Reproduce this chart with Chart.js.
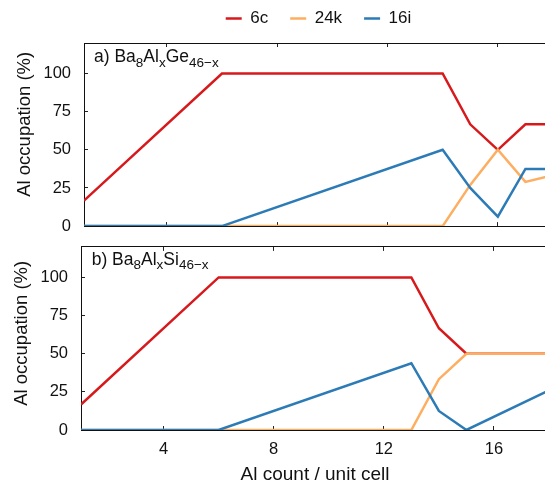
<!DOCTYPE html>
<html>
<head>
<meta charset="utf-8">
<script src="https://cdn.jsdelivr.net/npm/chart.js@4.4.1/dist/chart.umd.min.js"></script>
<style>
  html, body { margin: 0; padding: 0; background: #fff; overflow: hidden; }
  body { width: 545px; height: 487px; position: relative; }
  canvas { position: absolute; left: 0; }
  #panelA { top: 0; }
  #panelB { top: 220px; }
</style>
</head>
<body>
<canvas id="panelA" width="553" height="253"></canvas>
<canvas id="panelB" width="549" height="267"></canvas>
<script>
const seriesNames = ['6c', '24k', '16i'];
const seriesColors = ['#d7191c', '#fdae61', '#2c7bb6'];
const xTicks = [4, 8, 12, 16];
const yTicks = [0, 25, 50, 75, 100];

// a) Ba8AlxGe46-x
const ge6c = [{x: 1, y: 16.7}, {x: 6, y: 100}, {x: 14, y: 100}, {x: 15, y: 66.7}, {x: 16, y: 50}, {x: 17, y: 66.7}, {x: 18, y: 66.7}];
const ge24k = [{x: 1, y: 0}, {x: 14, y: 0}, {x: 15, y: 27}, {x: 16, y: 50}, {x: 17, y: 29}, {x: 18, y: 33.3}];
const ge16i = [{x: 1, y: 0}, {x: 6, y: 0}, {x: 14, y: 50}, {x: 15, y: 25}, {x: 16, y: 6.25}, {x: 17, y: 37.5}, {x: 18, y: 37.5}];

// b) Ba8AlxSi46-x
const si6c = [{x: 1, y: 16.7}, {x: 6, y: 100}, {x: 13, y: 100}, {x: 14, y: 66.7}, {x: 15, y: 50}, {x: 18, y: 50}];
const si24k = [{x: 1, y: 0}, {x: 13, y: 0}, {x: 14, y: 33.3}, {x: 15, y: 50}, {x: 18, y: 50}];
const si16i = [{x: 1, y: 0}, {x: 6, y: 0}, {x: 13, y: 43.75}, {x: 14, y: 12.5}, {x: 15, y: 0}, {x: 18, y: 26}];

const FONT = '"Liberation Sans", Arial, sans-serif';
const INK = '#111';

// chemical formula in the upper left corner, with subscripts
const panelLabel = {
  id: 'panelLabel',
  afterDraw(chart, args, o) {
    const ctx = chart.ctx;
    let x = chart.chartArea.left + o.dx;
    const y = chart.chartArea.top + o.dy;
    ctx.save();
    ctx.fillStyle = INK;
    ctx.textBaseline = 'alphabetic';
    ctx.textAlign = 'left';
    for (const [txt, sub] of o.parts) {
      ctx.font = (sub ? '13.5px ' : '17.5px ') + FONT;
      ctx.fillText(txt, x, sub ? y + 4.5 : y);
      x += ctx.measureText(txt).width;
    }
    ctx.restore();
  }
};

// inward tick marks, no grid lines
const tickGrid = { drawOnChartArea: false, drawTicks: true, tickLength: -4, color: '#222', lineWidth: 1 };
const frame = { display: true, color: '#111', width: 1 };

function setTicks(list) {
  return s => { s.ticks = list.map(v => ({ value: v })); };
}

function makePanel(id, series, p) {
  return new Chart(document.getElementById(id), {
    type: 'line',
    data: {
      datasets: seriesNames.map((name, i) => ({
        label: name,
        data: series[i],
        borderColor: seriesColors[i],
        backgroundColor: seriesColors[i],
        borderWidth: 2.5,
        pointRadius: 0,
        pointStyle: 'line',
        tension: 0,
        order: 3 - i,
      })),
    },
    options: {
      responsive: false,
      animation: false,
      events: [],
      layout: { padding: p.padding },
      plugins: {
        legend: p.legend ? {
          display: true,
          position: 'top',
          fullSize: false,
          maxHeight: 45,
          labels: {
            usePointStyle: true,
            pointStyleWidth: 16,
            padding: 22,
            color: INK,
            font: { family: FONT, size: 17 },
            sort: (a, b) => a.datasetIndex - b.datasetIndex,
          },
        } : { display: false },
        tooltip: { enabled: false },
        panelLabel: { parts: p.label, dx: p.dx, dy: p.dy },
      },
      scales: {
        x: {
          type: 'linear', position: 'bottom', min: 1, max: 18,
          afterBuildTicks: setTicks(xTicks),
          afterFit: s => { s.height = p.xHeight; },
          grid: tickGrid, border: frame,
          ticks: { display: p.xLabels, padding: 13.4, color: INK, font: { family: FONT, size: 16.5 } },
          title: { display: p.xLabels, text: 'Al count / unit cell', color: INK, font: { family: FONT, size: 19 }, padding: { top: 0, bottom: 0.5 } },
        },
        x2: {
          type: 'linear', position: 'top', min: 1, max: 18,
          afterBuildTicks: setTicks(xTicks),
          afterFit: s => { s.height = p.topHeight; },
          grid: tickGrid, border: frame,
          ticks: { display: false },
        },
        y: {
          type: 'linear', position: 'left', min: 0, max: 120,
          afterBuildTicks: setTicks(yTicks),
          afterFit: s => { s.width = p.yWidth; },
          grid: tickGrid, border: frame,
          ticks: { padding: 17, color: INK, font: { family: FONT, size: 16.5 } },
          // leading spaces lift the rotated label a little above the axis middle
          title: { display: true, text: p.yTitle, color: INK, font: { family: FONT, size: 18.5 }, padding: { top: p.titlePad, bottom: 0 } },
        },
        y2: {
          type: 'linear', position: 'right', min: 0, max: 120,
          afterBuildTicks: setTicks(yTicks),
          afterFit: s => { s.width = 0; },
          grid: tickGrid, border: frame,
          ticks: { display: false },
        },
      },
    },
    plugins: [panelLabel],
  });
}

makePanel('panelA', [ge6c, ge24k, ge16i], {
  legend: true,
  padding: { top: -12, left: 0, right: 0, bottom: 0 },
  topHeight: 10, xHeight: 0, yWidth: 84, titlePad: 14, xLabels: false,
  yTitle: '    Al occupation (%)',
  dx: 10, dy: 19,
  label: [['a) Ba', false], ['8', true], ['Al', false], ['x', true], ['Ge', false], ['46\u2212x', true]],
});

makePanel('panelB', [si6c, si24k, si16i], {
  legend: false,
  padding: { top: 0, left: 0, right: 0, bottom: 0 },
  topHeight: 0, xHeight: 57, yWidth: 81, titlePad: 11, xLabels: true,
  yTitle: '  Al occupation (%)',
  dx: 10.7, dy: 18,
  label: [['b) Ba', false], ['8', true], ['Al', false], ['x', true], ['Si', false], ['46\u2212x', true]],
});
</script>
</body>
</html>
